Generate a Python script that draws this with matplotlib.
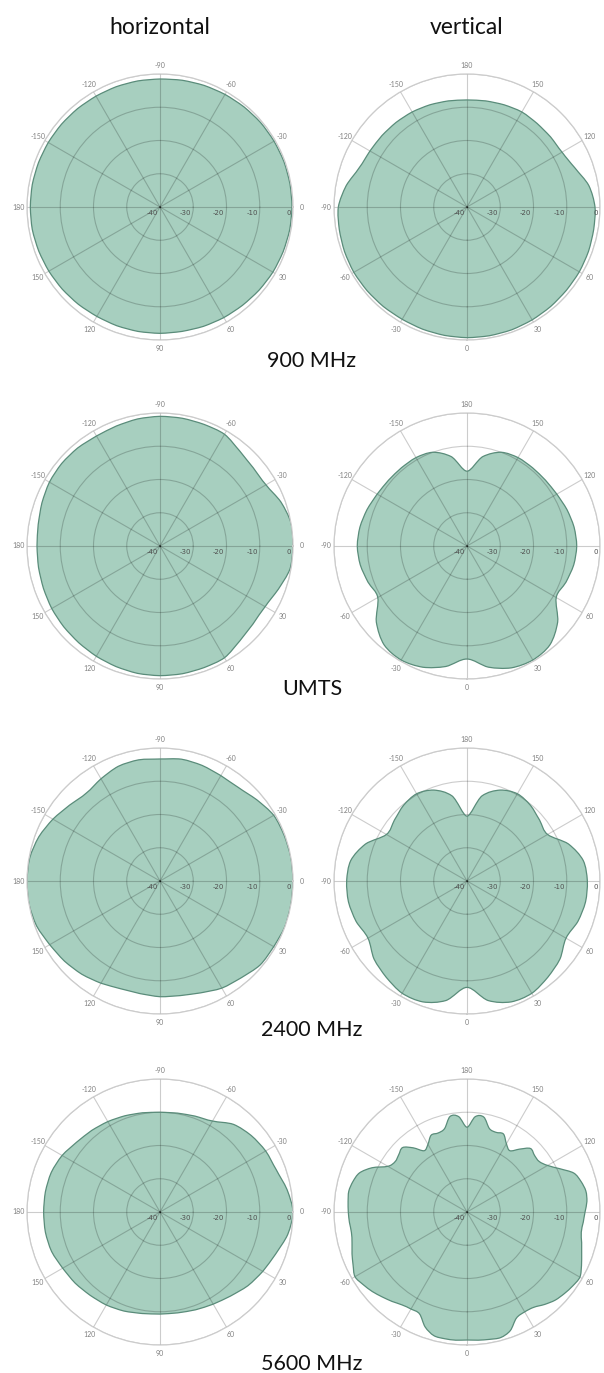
import numpy as np
import matplotlib.pyplot as plt
from matplotlib.transforms import offset_copy
from matplotlib.path import Path
from matplotlib.patches import PathPatch

plt.rcParams['font.family'] = ['Lato', 'DejaVu Sans']

# angles in degrees
ang10 = list(range(-180, 180, 10))
ang5 = list(range(-180, 180, 5))

h_900 = [-1, -1, -1.1, -1.2, -1.3, -1.4, -1.5, -1.5, -1.5, -1.5, -1.3, -1.1,
         -0.9, -0.7, -0.5, -0.4, -0.3, -0.3, -0.3, -0.4, -0.6, -0.8, -1.1, -1.4,
         -1.6, -1.8, -2, -2, -2, -2, -2, -1.8, -1.6, -1.4, -1.2, -1]
v_900 = [-7.8, -7.6, -7.3, -7, -6.8, -6.6, -6.3, -5.5, -3.1, -1.3, -1, -0.8,
         -0.7, -0.8, -0.9, -1, -0.9, -0.8, -0.7, -0.7, -0.7, -0.8, -0.9, -1,
         -1, -1.1, -1.3, -1.5, -2.8, -5.5, -7, -7.2, -7.2, -7, -7.3, -7.6]

h_umts = [-3, -2.8, -2.2, -1.6, -1.4, -1.5, -1.8, -1.6, -1.2, -1, -1, -1.1,
          -1.2, -2.7, -3.4, -3.2, -1.3, 0, 0, -0.3, -2.1, -3.5, -3.5, -2.7,
          -1.2, -1.1, -1, -1, -1.1, -1.4, -1.7, -2, -2.2, -2.4, -2.7, -2.9]
v_umts = [-17.5, -12.7, -10, -9.3, -9.3, -9.2, -8.8, -8, -7.3, -7, -7.4, -8.3,
          -9, -4.4, -1.2, -0.4, -1.2, -3.2, -6, -3, -1, -0.4, -1.2, -4.4,
          -9, -8.3, -7.4, -7, -7.3, -8, -8.8, -9.2, -9.3, -9.3, -10, -12.7]

h_2400 = [0, -0.2, -1.2, -2.8, -4.5, -5.5, -4.5, -3.3, -3, -3.3, -2.8, -3,
          -3.4, -3.3, -2, -0.5, -0.2, 0, 0, 0, 0, -0.5, -0.7, -2,
          -2.8, -4.2, -5, -5.2, -5.6, -5.5, -4.5, -3.4, -2.5, -1.7, -0.5, 0]
v_2400 = [-20.5, -14, -10.9, -9.7, -10.3, -11.5, -12, -7.5, -4.5, -3.8, -3.8, -4.5,
          -5.6, -3.5, -2.2, -1, -1.3, -3.5, -8, -3.5, -1.3, -1, -2.2, -3.5,
          -5.6, -4.5, -3.8, -3.8, -4.5, -7.5, -12, -11.5, -10.3, -9.7, -10.9, -14]

h_5600 = [-5, -5, -5.2, -6, -7.3, -8, -8.6, -9.2, -9.7, -10, -9.8, -9.3,
          -8.4, -5.6, -4.2, -3.3, -2.8, -1.2, 0, -1, -3, -4.3, -5.5, -7,
          -8, -8.7, -9.2, -9.3, -9, -8.3, -7.7, -7.3, -6.7, -6.2, -5.3, -5]
v_5600 = [-14.5, -11.2, -10.8, -14, -14.7, -14.5, -16.5, -17.5, -14.8, -12.6, -13.2, -13.6,
          -12.5, -8.5, -5.6, -4.5, -3.9, -4.1, -4.3, -4.5, -4.7, -4.2, -3.2, -2.2,
          -1.1, -1.9, -2.8, -3.9, -4.9, -5.9, -6.3, -6.2, -3.2, -1.5, -1.3, -1.3,
          -1.5, -1.3, -1.1, -0.9, -2.0, -4.8, -5.3, -5.0, -3.7, -2.5, -1.8, -1.2,
          -0.8, -2.0, -3.3, -4.3, -5.1, -4.9, -4.5, -3.8, -3.7, -4.5, -5.8, -9.2,
          -12, -13.5, -13.5, -13, -15.3, -17.5, -16.3, -14.1, -14.5, -14, -11, -11.2]

rows = ['900 MHz', 'UMTS', '2400 MHz', '5600 MHz']
data = [(h_900, v_900, ang10, ang10),
        (h_umts, v_umts, ang10, ang10),
        (h_2400, v_2400, ang10, ang10),
        (h_5600, v_5600, ang10, ang5)]

r_ticks = [-40, -30, -20, -10, 0]
theta_ticks = list(range(0, 360, 30))
theta_labels = [str(t if t <= 180 else t - 360) for t in theta_ticks]

W, H = 604, 1373
R = 133
col_x = [160, 467]
row_y = [207, 546, 881, 1212]
label_y = [361, 689, 1030, 1364]

FILL = '#a7cfbf'
EDGE = '#5a8c7a'

fig = plt.figure(figsize=(W / 100, H / 100), dpi=100)


def closed_curve(angles, values):
    # closed bezier path through the measured points (catmull-rom handles)
    n = len(angles)
    th = [angles[-1] - 360] + list(angles) + [angles[0] + 360, angles[1] + 360]
    rr = [values[-1]] + list(values) + [values[0], values[1]]
    P = np.column_stack([np.radians(th), rr])
    verts = [P[1]]
    codes = [Path.MOVETO]
    for i in range(1, n + 1):
        p0, p1, p2, p3 = P[i - 1], P[i], P[i + 1], P[i + 2]
        verts += [p1 + (p2 - p0) / 6, p2 - (p3 - p1) / 6, p2]
        codes += [Path.CURVE4] * 3
    return Path(np.array(verts), codes)


def draw_polar(ax, kind, angles, values):
    if kind == 'h':
        ax.set_theta_zero_location('E')
        ax.set_theta_direction(-1)
        east = 0
    else:
        ax.set_theta_zero_location('S')
        ax.set_theta_direction(1)
        east = 90
    path = closed_curve(angles, values)
    ax.add_patch(PathPatch(path, facecolor=FILL, edgecolor='none', zorder=1,
                           transform=ax.transData))
    ax.add_patch(PathPatch(path, facecolor='none', edgecolor=EDGE, lw=0.9, zorder=2,
                           transform=ax.transData))
    ax.set_rlim(-40, 0)
    ax.set_rticks(r_ticks)
    ax.set_yticklabels([])
    ax.set_thetagrids(theta_ticks, theta_labels)
    ax.tick_params(axis='x', labelsize=5, colors='#808080', length=0, pad=-1)
    ax.grid(True, color='black', alpha=0.2, lw=0.8)
    ax.spines['polar'].set_color('#cccccc')
    ax.spines['polar'].set_linewidth(0.9)
    trans = offset_copy(ax.transData, fig=fig, x=-1.5, y=-2.5, units='points')
    for r in r_ticks:
        ax.text(np.radians(east), r, str(r), transform=trans, ha='right', va='top',
                fontsize=5, color='#505050', family='DejaVu Sans')


for i in range(4):
    hv, vv, ha_, va_ = data[i]
    for j, (kind, vals, angs) in enumerate([('h', hv, ha_), ('v', vv, va_)]):
        cx, cy = col_x[j], row_y[i]
        ax = fig.add_axes([(cx - R) / W, 1 - (cy + R) / H, 2 * R / W, 2 * R / H],
                          projection='polar')
        draw_polar(ax, kind, angs, vals)
    fig.text(312 / W, 1 - label_y[i] / H, rows[i], ha='center', va='center',
             fontsize=15.5, color='#111111')

fig.text(col_x[0] / W, 1 - 27 / H, 'horizontal', ha='center', va='center',
         fontsize=16.5, color='#111111')
fig.text(col_x[1] / W, 1 - 27 / H, 'vertical', ha='center', va='center',
         fontsize=16.5, color='#111111')

fig.savefig('out.png', dpi=100)
